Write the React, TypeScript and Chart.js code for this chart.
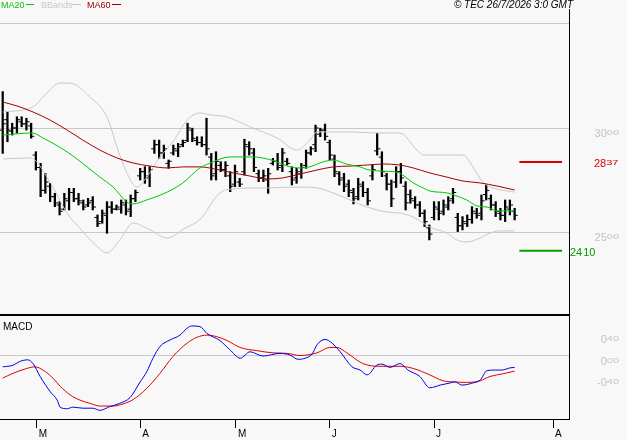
import React, { useEffect, useRef } from "react";
import { Chart, registerables } from "chart.js";

Chart.register(...registerables);

const FONT = "'Liberation Sans', Arial, sans-serif";

// ---- OHLC (trading-day index 0..108) ----
const highs = [
  3175, 3078, 3023, 3054, 3054, 3047, 3023, 2886, 2830, 2782,
  2734, 2686, 2646, 2686, 2710, 2710, 2686, 2654, 2662, 2670,
  2582, 2606, 2646, 2646, 2630, 2654, 2654, 2678, 2702, 2806,
  2814, 2814, 2942, 2942, 2918, 2846, 2918, 2926, 2942, 3023,
  2999, 2958, 2958, 3047, 2878, 2886, 2838, 2838, 2790, 2822,
  2758, 2946, 2934, 2902, 2798, 2798, 2806, 2854, 2878, 2902,
  2854, 2814, 2806, 2830, 2894, 2910, 3014, 2999, 3019, 2942,
  2870, 2790, 2782, 2750, 2710, 2758, 2742, 2710, 2822, 2975,
  2886, 2782, 2750, 2814, 2830, 2742, 2702, 2670, 2646, 2606,
  2534, 2646, 2646, 2654, 2670, 2710, 2590, 2574, 2582, 2622,
  2614, 2678, 2726, 2678, 2646, 2614, 2654, 2654, 2614,
];
const lows = [
  2878, 2934, 2966, 2975, 3006, 2990, 2951, 2798, 2670, 2686,
  2646, 2622, 2582, 2606, 2606, 2646, 2630, 2606, 2622, 2606,
  2526, 2542, 2494, 2590, 2606, 2590, 2582, 2574, 2646, 2750,
  2734, 2718, 2878, 2854, 2854, 2806, 2870, 2862, 2910, 2934,
  2934, 2918, 2910, 2870, 2750, 2750, 2790, 2766, 2694, 2718,
  2718, 2774, 2870, 2790, 2742, 2742, 2686, 2822, 2798, 2790,
  2822, 2726, 2734, 2758, 2806, 2870, 2886, 2958, 2942, 2846,
  2766, 2726, 2694, 2670, 2635, 2654, 2670, 2630, 2750, 2870,
  2766, 2702, 2622, 2714, 2734, 2606, 2638, 2614, 2574, 2526,
  2462, 2558, 2558, 2582, 2606, 2638, 2502, 2510, 2526, 2542,
  2566, 2558, 2654, 2606, 2574, 2558, 2550, 2582, 2558,
];
const opens = [
  2990, 3040, 2985, 3000, 3030, 3020, 3010, 2870, 2810, 2700,
  2720, 2670, 2630, 2610, 2650, 2690, 2660, 2640, 2630, 2650,
  2570, 2550, 2580, 2620, 2610, 2610, 2630, 2610, 2660, 2770,
  2790, 2770, 2900, 2920, 2880, 2830, 2880, 2890, 2920, 2940,
  2990, 2940, 2930, 2920, 2860, 2780, 2820, 2800, 2770, 2730,
  2740, 2790, 2910, 2880, 2780, 2760, 2750, 2830, 2840, 2820,
  2840, 2790, 2760, 2780, 2820, 2880, 2920, 2970, 2990, 2930,
  2850, 2780, 2760, 2730, 2690, 2670, 2720, 2690, 2770, 2890,
  2860, 2770, 2730, 2740, 2790, 2720, 2680, 2650, 2630, 2590,
  2520, 2570, 2610, 2600, 2620, 2660, 2570, 2530, 2540, 2560,
  2590, 2590, 2680, 2660, 2630, 2590, 2580, 2610, 2600,
];
const closes = [
  3020, 2990, 3000, 3040, 3020, 3030, 2960, 2810, 2700, 2740,
  2670, 2640, 2600, 2660, 2690, 2660, 2650, 2620, 2640, 2620,
  2540, 2590, 2620, 2610, 2620, 2640, 2600, 2660, 2690, 2790,
  2760, 2800, 2920, 2880, 2900, 2840, 2900, 2910, 2930, 3000,
  2950, 2930, 2920, 2900, 2770, 2840, 2800, 2820, 2720, 2790,
  2730, 2920, 2900, 2810, 2760, 2770, 2780, 2840, 2810, 2880,
  2830, 2750, 2790, 2810, 2880, 2900, 3000, 2990, 2960, 2870,
  2790, 2750, 2720, 2700, 2660, 2730, 2690, 2650, 2800, 2900,
  2790, 2730, 2660, 2790, 2760, 2640, 2660, 2630, 2590, 2550,
  2490, 2620, 2590, 2630, 2650, 2690, 2530, 2550, 2560, 2600,
  2580, 2650, 2700, 2630, 2600, 2580, 2620, 2630, 2580,
];

// ---- indicator curves, read as [trading-day index, value] ----
const ma20 = [
  [0, 2966], [6.2, 2976], [8.5, 2952], [13.6, 2885], [17.8, 2813], [20.5, 2764],
  [23.3, 2716], [26.2, 2644], [27.5, 2635], [30.4, 2654], [34.7, 2692], [38, 2736],
  [41.6, 2808], [44.4, 2837], [46.5, 2856], [48.6, 2861], [52.8, 2861], [55.8, 2851],
  [57.9, 2837], [60.6, 2813], [62.7, 2808], [64.8, 2813], [66.9, 2832], [69.7, 2846],
  [72.6, 2826], [75.4, 2813], [76.9, 2800], [79.6, 2793], [83.2, 2788], [84.4, 2774],
  [86.6, 2736], [88.7, 2712], [90.1, 2697], [93.7, 2688], [95.8, 2673], [97.9, 2654],
  [100.1, 2625], [102.2, 2620], [104.3, 2601], [108, 2601],
];
const ma60 = [
  [0, 3125], [3, 3106], [6.4, 3077], [10, 3038], [13.6, 2990], [16.9, 2942],
  [20.5, 2894], [24.1, 2856], [27.5, 2832], [31.1, 2817], [34.7, 2808], [38.1, 2813],
  [41.6, 2813], [45.8, 2798], [48.6, 2784], [52.2, 2769], [55.8, 2755], [59.1, 2760],
  [62.7, 2779], [66.3, 2798], [69.7, 2813], [73.3, 2817], [76.9, 2822], [80.2, 2827],
  [83.8, 2822], [86.6, 2808], [90.1, 2784], [93.7, 2764], [97.1, 2745], [100.7, 2736],
  [104.3, 2721], [108, 2702],
];
const bbUpper = [
  [0, 3077], [6.4, 3101], [8.9, 3159], [12.1, 3216], [14.2, 3216], [18.4, 3149],
  [22, 3053], [24.1, 2909], [26.2, 2784], [28.3, 2716], [30.4, 2764], [33.2, 2861],
  [35.9, 2933], [38.9, 3038], [41.6, 3072], [43.8, 3063], [47.3, 3053], [52.2, 3005],
  [57.9, 2952], [62.1, 2894], [64.8, 2942], [66.3, 2981], [69.7, 2981], [73.9, 2981],
  [78.1, 2976], [83.8, 2976], [87.4, 2894], [88.7, 2870], [97.1, 2870], [99.2, 2813],
  [101.3, 2740], [103.4, 2712], [108, 2692],
];
const bbLower = [
  [0, 2851], [5.8, 2856], [10, 2740], [13.6, 2590], [17, 2500], [19.5, 2440],
  [22, 2400], [24.7, 2462], [27.5, 2543], [31.1, 2510], [34.7, 2471], [38.5, 2519],
  [41.6, 2560], [45.8, 2688], [48.6, 2707], [55.8, 2712], [62.7, 2716], [66.3, 2712],
  [69.7, 2688], [73.3, 2654], [76.9, 2620], [81.1, 2596], [83.8, 2591], [86.6, 2572],
  [90.1, 2524], [93.7, 2495], [95.8, 2462], [97.9, 2452], [100.7, 2471], [102.8, 2495],
  [104.9, 2505], [108, 2505],
];
const macd = [
  [0, -0.22], [2.2, -0.19], [3.6, -0.12], [5.3, -0.09], [6.4, -0.16], [7.9, -0.4],
  [10, -0.68], [11.5, -0.84], [12.1, -0.97], [13.6, -1.0], [14.8, -0.97], [16.9, -0.99],
  [19, -0.99], [20.5, -1.03], [22.6, -0.96], [24.7, -0.9], [26.9, -0.79], [29, -0.5],
  [30.4, -0.31], [31.7, -0.06], [33.2, 0.16], [35.3, 0.28], [37.4, 0.37], [38.9, 0.5],
  [39.9, 0.54], [41.6, 0.53], [43.1, 0.4], [45.8, 0.27], [47.9, 0.1], [50.1, -0.06],
  [52.2, 0.06], [54.9, -0.02], [58.5, 0.03], [60.6, 0], [62.3, -0.08], [63.8, -0.06],
  [65.3, 0.02], [66.3, 0.19], [68, 0.29], [69.5, 0.22], [71.2, 0.06], [73.7, -0.22],
  [75.4, -0.28], [76.9, -0.37], [78.9, -0.19], [80, -0.17], [81.7, -0.23], [83.8, -0.16],
  [85.5, -0.28], [88, -0.4], [90.1, -0.61], [92.3, -0.56], [94.4, -0.52], [95.4, -0.5],
  [96.9, -0.56], [99.2, -0.52], [100.7, -0.47], [102.2, -0.29], [103.9, -0.28],
  [105.3, -0.28], [107, -0.24], [108, -0.23],
];
const signal = [
  [0, -0.43], [2.2, -0.34], [5.1, -0.25], [6.8, -0.22], [8.5, -0.28], [10.6, -0.43],
  [12.1, -0.58], [14.2, -0.74], [16.3, -0.84], [18.4, -0.9], [20.5, -0.95], [23.3, -0.95],
  [25.4, -0.91], [27.5, -0.83], [30.4, -0.62], [33.2, -0.34], [35.9, -0.03], [38.9, 0.22],
  [41, 0.33], [43.1, 0.37], [45.2, 0.34], [47.3, 0.27], [50.1, 0.14], [53.7, 0.08],
  [57, 0.04], [60, 0.03], [62.7, -0.01], [66.3, 0.04], [69, 0.14], [70.5, 0.14],
  [72.6, 0.04], [76, -0.16], [79.6, -0.21], [83.8, -0.21], [86.6, -0.25], [90.1, -0.37],
  [92.9, -0.48], [95, -0.5], [97.9, -0.51], [100.7, -0.48], [102.8, -0.4], [105.5, -0.35],
  [108, -0.3],
];

// ---- levels, axes ----
const resistanceLevel = 2837;
const supportLevel = 2410;
const levelSpan = [109, 118]; // index range of the level markers
const monthTicks = [7.2, 29, 49.2, 69, 91, 116.1];
const monthLabels = ["M", "A", "M", "J", "J", "A"];
const priceGrid = [2500, 3000, 3500];
const priceLabels = [2500, 3000];
const macdGrid = [0];
const macdLabels = [0.4, 0, -0.4];

const xy = (pts: number[][]) => pts.map(([x, y]) => ({ x, y }));

function drawSplit(
  ctx: CanvasRenderingContext2D,
  main: string,
  sup: string,
  x: number,
  capTop: number,
  color: string,
  align: "left" | "right"
) {
  const CAP = 7.9;
  ctx.font = `11px ${FONT}`;
  ctx.textBaseline = "alphabetic";
  ctx.textAlign = "left";
  ctx.fillStyle = color;
  const wm = ctx.measureText(main).width;
  const ws = ctx.measureText(sup).width;
  const x0 = align === "right" ? x - wm - ws : x;
  ctx.fillText(main, x0, capTop + CAP);
  ctx.save();
  ctx.translate(x0 + wm, capTop);
  ctx.scale(1, 0.72);
  ctx.fillText(sup, 0, CAP);
  ctx.restore();
}

const decorPlugin = {
  id: "decor",
  afterDraw(chart: any) {
    const { ctx, chartArea } = chart;
    const yP = chart.scales.y;
    const yM = chart.scales.y2;
    ctx.save();
    ctx.fillStyle = "#000";
    ctx.fillRect(chartArea.left, Math.round(yP.bottom), chartArea.right - chartArea.left, 2);
    const labelRight = 619;
    for (const v of priceLabels) {
      const s = String(v);
      drawSplit(ctx, s.slice(0, 2), s.slice(2), labelRight, yP.getPixelForValue(v) + 1.5, "#c4c4c4", "right");
    }
    for (const v of macdLabels) {
      const [a, b] = v.toFixed(2).split(".");
      drawSplit(ctx, a, b, labelRight, yM.getPixelForValue(v) + 2, "#c4c4c4", "right");
    }
    const r = String(resistanceLevel);
    drawSplit(ctx, r.slice(0, 2), r.slice(2), 594, yP.getPixelForValue(resistanceLevel) - 2.4, "#d80000", "left");
    const s = String(supportLevel);
    ctx.font = `11px ${FONT}`;
    ctx.fillStyle = "#009a00";
    ctx.textAlign = "left";
    ctx.textBaseline = "alphabetic";
    const sy = yP.getPixelForValue(supportLevel) - 3 + 7.9;
    ctx.fillText(s.slice(0, 2), 570, sy);
    const w = ctx.measureText(s.slice(0, 2)).width;
    ctx.fillText(s.slice(2), 570 + w + 1, sy);
    ctx.restore();
  },
};

export default function App() {
  const ref = useRef<HTMLCanvasElement | null>(null);

  useEffect(() => {
    if (!ref.current) return;
    const line = (data: number[][], color: string, axis: string, order: number, width = 1) => ({
      type: "line" as const,
      data: xy(data),
      borderColor: color,
      borderWidth: width,
      pointRadius: 0,
      pointHoverRadius: 0,
      fill: false,
      cubicInterpolationMode: "monotone" as const,
      yAxisID: axis,
      order,
    });
    const chart = new Chart(ref.current, {
      type: "bar",
      data: {
        datasets: [
          line(ma20, "#00c800", "y", 1),
          line(ma60, "#a00000", "y", 1),
          line(bbUpper, "#c8c8c8", "y", 2),
          line(bbLower, "#c8c8c8", "y", 2),
          line(macd, "#0000e0", "y2", 1),
          line(signal, "#e00000", "y2", 1),
          line(levelSpan.map((x) => [x, resistanceLevel]), "#d80000", "y", 1, 2),
          line(levelSpan.map((x) => [x, supportLevel]), "#00a000", "y", 1, 2),
          {
            type: "scatter" as const,
            data: opens.map((o, i) => ({ x: i - 0.4, y: o })),
            pointStyle: "line",
            pointRadius: 1.3,
            pointHoverRadius: 0,
            borderColor: "#000",
            borderWidth: 1,
            yAxisID: "y",
            order: 5,
          } as any,
          {
            type: "scatter" as const,
            data: closes.map((c, i) => ({ x: i + 0.4, y: c })),
            pointStyle: "line",
            pointRadius: 1.3,
            pointHoverRadius: 0,
            borderColor: "#000",
            borderWidth: 1,
            yAxisID: "y",
            order: 5,
          } as any,
          {
            type: "bar" as const,
            data: highs.map((h, i) => ({ x: i, y: [lows[i], h] })) as any,
            backgroundColor: "#000",
            borderWidth: 0,
            barThickness: 1.6,
            grouped: false,
            yAxisID: "y",
            order: 6,
          } as any,
        ],
      },
      options: {
        animation: false,
        responsive: false,
        devicePixelRatio: 1,
        events: [],
        layout: { autoPadding: false, padding: { top: 9, left: 0, right: 0, bottom: 0 } },
        plugins: { legend: { display: false }, tooltip: { enabled: false } },
        scales: {
          x: {
            type: "linear",
            min: -0.57,
            max: 119.47,
            offset: false,
            afterBuildTicks: (axis: any) => {
              axis.ticks = monthTicks.map((v) => ({ value: v }));
            },
            afterFit: (s: any) => {
              s.height = 21;
            },
            ticks: {
              autoSkip: false,
              maxRotation: 0,
              align: "start",
              labelOffset: 2,
              padding: 0,
              color: "#000",
              font: { family: FONT, size: 10 },
              callback: (_v: any, i: number) => monthLabels[i],
            },
            grid: { offset: false, drawOnChartArea: false, tickLength: 9, tickColor: "#000", color: "#000" },
            border: { display: true, color: "#000" },
          },
          y: {
            type: "linear",
            position: "right",
            stack: "panels",
            stackWeight: 305,
            min: 2105.8,
            max: 3572.1,
            afterBuildTicks: (axis: any) => {
              axis.ticks = priceGrid.map((v) => ({ value: v }));
            },
            afterFit: (s: any) => {
              s.width = 58;
            },
            ticks: { display: false },
            grid: { color: "#c8c8c8", drawTicks: false },
            border: { display: true, color: "#000" },
          },
          y2: {
            type: "linear",
            position: "right",
            stack: "panels",
            stackWeight: 105,
            min: -1.191,
            max: 0.763,
            afterBuildTicks: (axis: any) => {
              axis.ticks = macdGrid.map((v) => ({ value: v }));
            },
            afterFit: (s: any) => {
              s.width = 58;
            },
            ticks: { display: false },
            grid: { color: "#c8c8c8", drawTicks: false },
            border: { display: true, color: "#000" },
          },
        } as any,
      },
      plugins: [decorPlugin],
    });
    return () => chart.destroy();
  }, []);

  const legendText = { position: "absolute" as const, top: 1, font: `9px ${FONT}`, lineHeight: "9px", whiteSpace: "nowrap" as const };
  return (
    <div style={{ position: "absolute", left: 0, top: 0, width: 627, height: 440, background: "#f8f8f8", overflow: "hidden" }}>
      <canvas ref={ref} width={627} height={440} style={{ position: "absolute", left: 0, top: 0 }} />
      <div style={{ ...legendText, left: 1, color: "#00c800" }}>MA20</div>
      <div style={{ position: "absolute", left: 26, top: 4, width: 8, height: 1, background: "#00c800" }} />
      <div style={{ ...legendText, left: 41, color: "#c8c8c8" }}>BBands</div>
      <div style={{ position: "absolute", left: 72, top: 4, width: 9, height: 1, background: "#c8c8c8" }} />
      <div style={{ ...legendText, left: 87, color: "#a00000" }}>MA60</div>
      <div style={{ position: "absolute", left: 112, top: 4, width: 9, height: 1, background: "#a00000" }} />
      <div style={{ position: "absolute", right: 54, top: 0, font: `italic 10px ${FONT}`, lineHeight: "10px", color: "#000", whiteSpace: "nowrap" }}>
        © TEC 26/7/2026 3:0 GMT
      </div>
      <div style={{ position: "absolute", left: 3, top: 322, font: `10px ${FONT}`, lineHeight: "10px", color: "#000" }}>MACD</div>
    </div>
  );
}
